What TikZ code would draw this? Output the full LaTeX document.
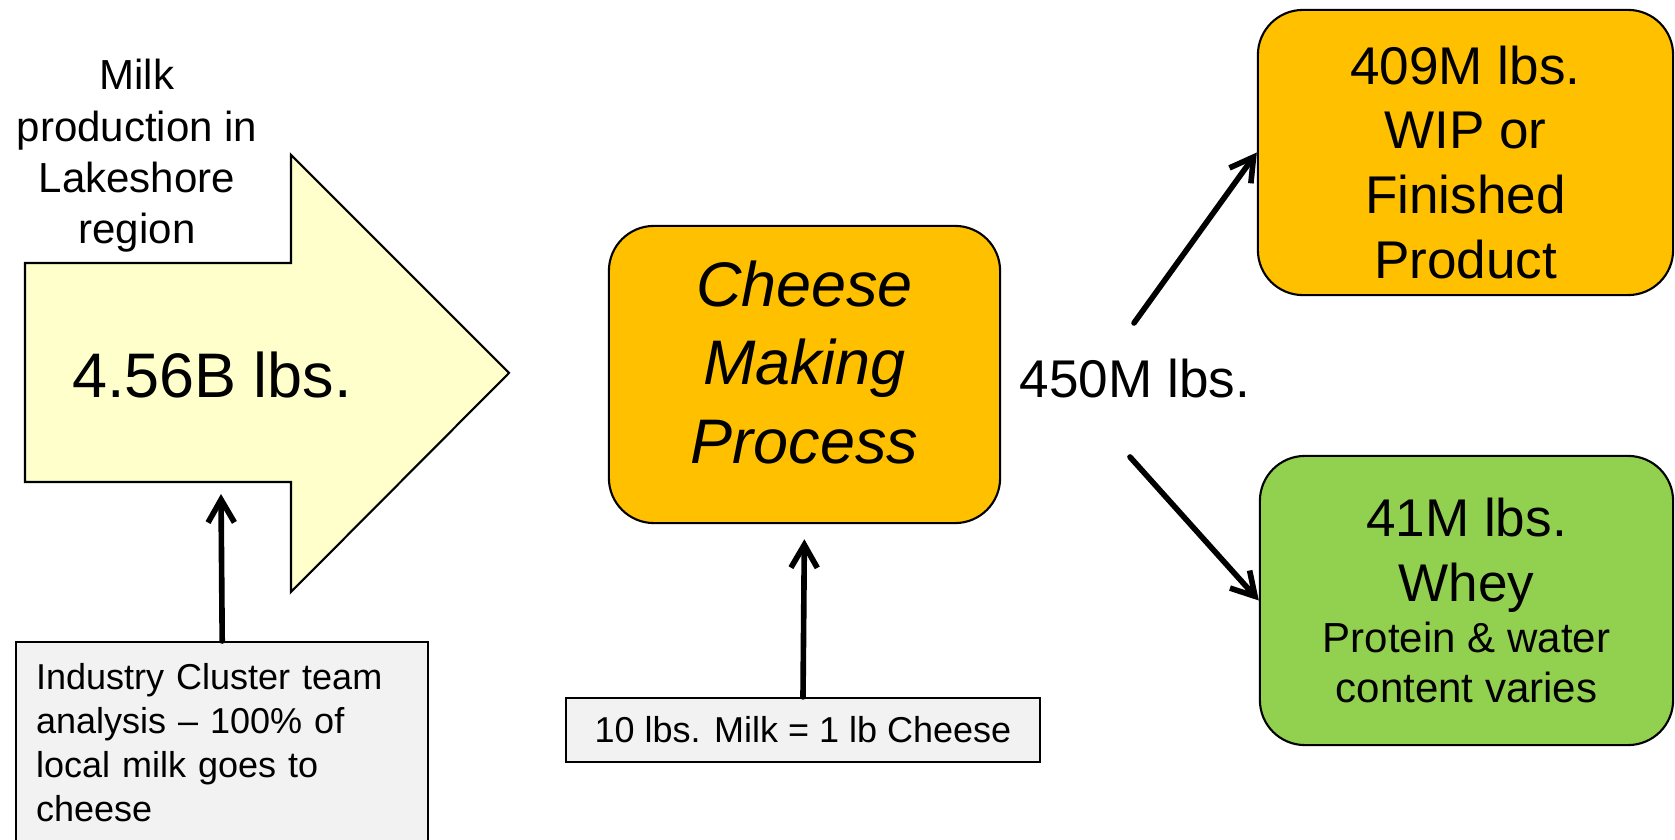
\documentclass[tikz,border=0pt]{standalone}
\usepackage{fontspec}
\setmainfont{Liberation Sans}
\usetikzlibrary{arrows.meta}

\definecolor{milkyellow}{HTML}{FFFFCC}
\definecolor{cheeseorange}{HTML}{FFC000}
\definecolor{wheygreen}{HTML}{92D050}
\definecolor{notegray}{HTML}{F2F2F2}

\newcommand{\fsmall}{\fontsize{10.24pt}{12.5pt}\selectfont}
\newcommand{\fmid}{\fontsize{11.95pt}{14.6pt}\selectfont}
\newcommand{\fbig}{\fontsize{15.1pt}{18.4pt}\selectfont}
\newcommand{\fhuge}{\fontsize{17.9pt}{22.2pt}\selectfont}

\begin{document}
\begin{tikzpicture}[x=0.01cm, y=-0.01cm,
  box/.style = {draw, line width=0.6pt, rounded corners=12.8pt,
                align=center, inner sep=0pt},
  note/.style = {draw, line width=0.6pt, fill=notegray, font=\fsmall},
  flow/.style = {line width=1.6pt, line cap=round,
                 -{Straight Barb[length=6.5pt, width=7.5pt]}}]
  \useasboundingbox (0,0) rectangle (1675,840);
  % big input arrow
  \draw[line width=0.6pt, fill=milkyellow] (25,263) -- (291,263) -- (291,155)
        -- (509,373) -- (291,592) -- (291,482) -- (25,482) -- cycle;
  \node[font=\fhuge] (milk) at (212,375) {4.56B lbs.};
  \node[font=\fmid, align=center] (region) at (137,156)
        {Milk\\production in\\Lakeshore\\region};
  % process and outputs
  \node[box, fill=cheeseorange, minimum width=3.91cm, minimum height=2.97cm,
        font=\fhuge\itshape] (cheese) at (804.5,374.5)
        {Cheese\\Making\\Process\rule[-7pt]{0pt}{0pt}};
  \node[font=\fbig] (yield) at (1135,379) {450M lbs.};
  \node[box, fill=cheeseorange, minimum width=4.15cm, minimum height=2.85cm,
        font=\fbig] (wip) at (1465.5,152.5)
        {\rule{0pt}{16.5pt}409M lbs.\\WIP or\\Finished\\Product};
  \node[box, fill=wheygreen, minimum width=4.13cm, minimum height=2.89cm,
        font=\fbig] (whey) at (1466.5,600.5)
        {41M lbs.\\Whey\\[-3.8pt]\fmid Protein \& water\\[-4.3pt]\fmid content varies};
  % notes
  \node[note, anchor=north west, text width=3.72cm, inner xsep=5.7pt,
        inner ysep=6pt, align=left] (cluster) at (15,641)
        {Industry Cluster team\\analysis – 100\% of\\local milk goes to\\cheese};
  \node[note, minimum width=4.74cm, minimum height=0.64cm] (ratio) at (803,730)
        {10 lbs. Milk = 1 lb Cheese};
  % arrows
  \coordinate (milkin) at (221,494);
  \coordinate (upfrom) at (1134,323);
  \coordinate (downfrom) at (1130,457);
  \draw[flow] (cluster.north) -- (milkin);
  \draw[flow, shorten >=4.3pt] (ratio.north) -- (cheese.south);
  \draw[flow] (upfrom) -- (wip.west);
  \draw[flow] (downfrom) -- (whey.west);
\end{tikzpicture}
\end{document}
